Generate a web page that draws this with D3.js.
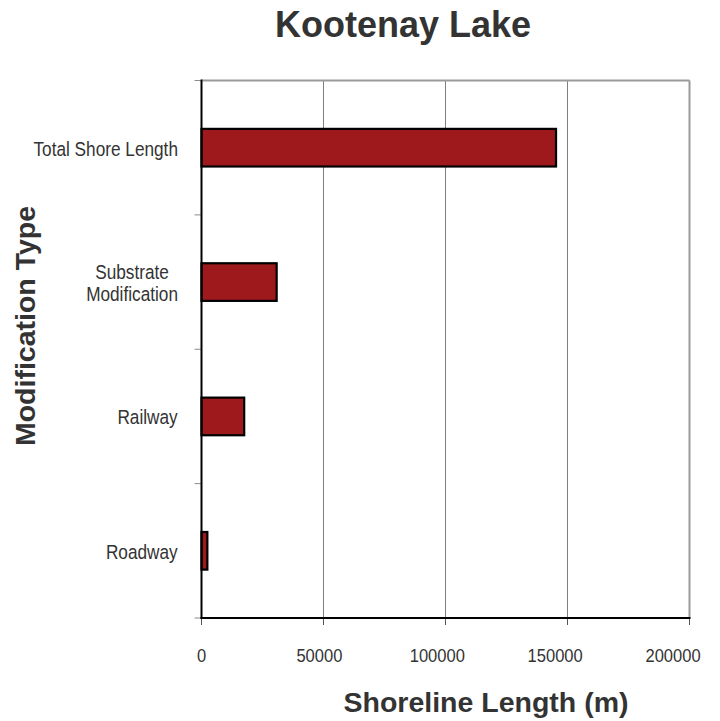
<!DOCTYPE html>
<html><head><meta charset="utf-8">
<script src="https://cdn.jsdelivr.net/npm/d3@7"></script>
<style>html,body{margin:0;padding:0;background:#fff}</style>
</head><body>
<script>
const categories = ["Total Shore Length", "Substrate Modification", "Railway", "Roadway"];
const categoryLines = [["Total Shore Length"], ["Substrate", "Modification"], ["Railway"], ["Roadway"]];
const values = [145300, 30800, 17500, 2400];
const xTicks = [0, 50000, 100000, 150000, 200000];
const chartTitle = "Kootenay Lake";
const xTitle = "Shoreline Length (m)";
const yTitle = "Modification Type";

const W = 720, H = 721;
const pLeft = 201.5, pRight = 689.5, pTop = 80.5, pBottom = 618;
const svg = d3.select("body").append("svg").attr("width", W).attr("height", H)
  .style("font-family", "'Liberation Sans', Arial, sans-serif");

const x = d3.scaleLinear().domain([0, 200000]).range([pLeft, pRight]);
const y = d3.scaleBand().domain(categories).range([pTop, pBottom]).paddingInner(0.72).paddingOuter(0.36);
const step = y.step();

// gridlines
svg.append("g").selectAll("line").data(xTicks.filter(d => d > 0 && d < 200000)).join("line")
  .attr("x1", d => x(d)).attr("x2", d => x(d)).attr("y1", pTop).attr("y2", pBottom)
  .attr("stroke", "#7f7f7f").attr("stroke-width", 1);
// top and right borders
svg.append("line").attr("x1", pLeft).attr("x2", pRight).attr("y1", pTop).attr("y2", pTop)
  .attr("stroke", "#9a9a9a").attr("stroke-width", 2);
svg.append("line").attr("x1", x(200000)).attr("x2", x(200000)).attr("y1", pTop).attr("y2", pBottom)
  .attr("stroke", "#9a9a9a").attr("stroke-width", 2);

// category boundary ticks
const bounds = d3.range(categories.length + 1).map(i => pTop + i * step);
svg.append("g").selectAll("line").data(bounds).join("line")
  .attr("x1", pLeft - 7).attr("x2", pLeft).attr("y1", d => d).attr("y2", d => d)
  .attr("stroke", "#8c8c8c").attr("stroke-width", 1);

// bottom ticks
svg.append("g").selectAll("line").data(xTicks).join("line")
  .attr("x1", d => x(d)).attr("x2", d => x(d)).attr("y1", pBottom).attr("y2", pBottom + 7)
  .attr("stroke", "#555").attr("stroke-width", 1);

// bars
svg.append("g").selectAll("rect").data(categories).join("rect")
  .attr("x", x(0)).attr("y", d => y(d))
  .attr("width", (d, i) => x(values[i]) - x(0))
  .attr("height", y.bandwidth())
  .attr("fill", "#9e191c").attr("stroke", "#000").attr("stroke-width", 2.2);

// axes lines
svg.append("line").attr("x1", pLeft).attr("x2", pLeft).attr("y1", pTop - 1).attr("y2", pBottom + 1)
  .attr("stroke", "#000").attr("stroke-width", 2);
svg.append("line").attr("x1", pLeft - 1).attr("x2", pRight + 1).attr("y1", pBottom).attr("y2", pBottom)
  .attr("stroke", "#000").attr("stroke-width", 2);

// x tick labels (slightly condensed)
svg.append("g").selectAll("text").data(xTicks).join("text")
  .attr("transform", d => `translate(${x(d) - (d / 200000) * 16.5},661.5) scale(0.87,1)`)
  .attr("text-anchor", "middle")
  .attr("font-size", 19).attr("fill", "#333")
  .text(d => d);

// category labels (condensed)
const sx = 0.84;
categories.forEach((c, i) => {
  const lines = categoryLines[i];
  const cy = y(c) + y.bandwidth() / 2;
  const lh = 22;
  const g = svg.append("g");
  const t = g.append("text").attr("font-size", 20.5).attr("fill", "#333").attr("text-anchor", "middle");
  lines.forEach((ln, j) => {
    t.append("tspan").attr("x", 0).attr("y", cy + 8 + (j - (lines.length - 1) / 2) * lh).text(ln);
  });
  const w = t.node().getBBox().width * sx;
  g.attr("transform", `translate(${178 - w / 2},0) scale(${sx},1)`);
});

// titles
svg.append("text").attr("x", 403).attr("y", 37).attr("text-anchor", "middle")
  .attr("font-size", 36).attr("font-weight", "bold").attr("fill", "#333").text(chartTitle);
svg.append("text").attr("x", 486).attr("y", 712).attr("text-anchor", "middle")
  .attr("font-size", 28.5).attr("font-weight", "bold").attr("fill", "#333").text(xTitle);
svg.append("text").attr("transform", "translate(35,326) rotate(-90)").attr("text-anchor", "middle")
  .attr("font-size", 28.5).attr("font-weight", "bold").attr("fill", "#333").text(yTitle);
</script>
</body></html>
